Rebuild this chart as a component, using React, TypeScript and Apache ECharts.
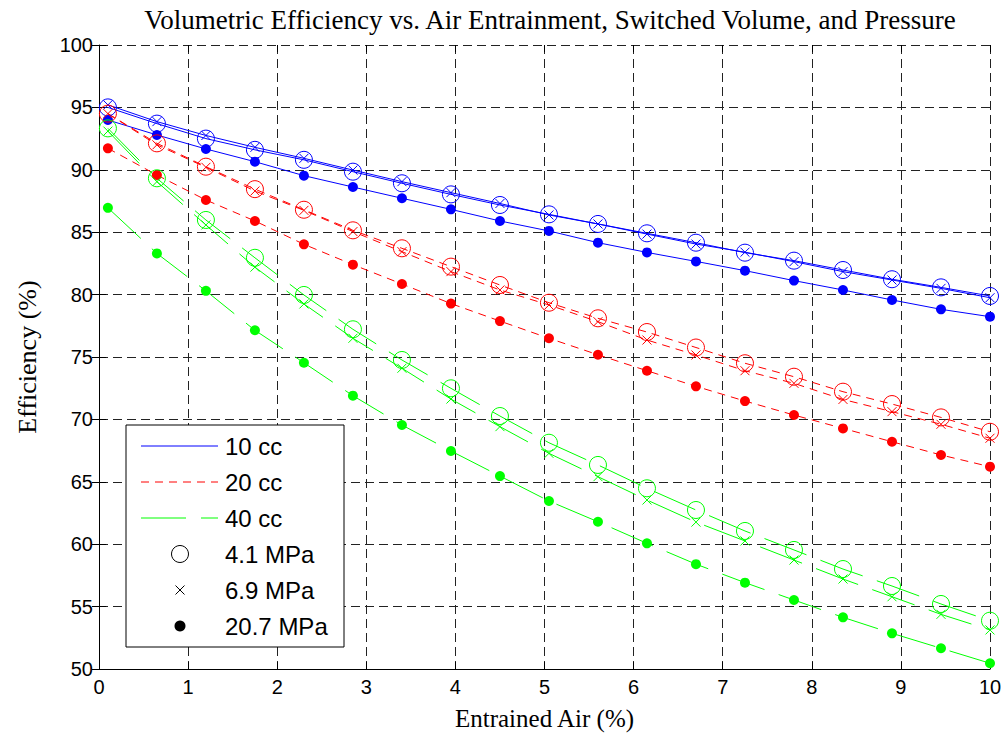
import React, { useEffect, useRef } from 'react';
import * as echarts from 'echarts';

// Entrained air (%) at which each curve was sampled
const airEntrained = [0.1, 0.65, 1.2, 1.75, 2.3, 2.85, 3.4, 3.95, 4.5, 5.05, 5.6, 6.15, 6.7, 7.25, 7.8, 8.35, 8.9, 9.45, 10];

// Volumetric efficiency (%) — 10 cc
const eff10cc_4_1MPa = [95.0, 93.7, 92.5, 91.6, 90.8, 89.85, 88.92, 88.03, 87.18, 86.43, 85.66, 84.91, 84.16, 83.36, 82.72, 81.97, 81.23, 80.58, 79.89];
const eff10cc_6_9MPa = [95.2, 93.86, 92.75, 91.8, 90.92, 89.98, 89.05, 88.17, 87.3, 86.38, 85.66, 84.85, 84.05, 83.4, 82.64, 81.84, 81.17, 80.5, 79.75];
const eff10cc_20_7MPa = [93.99, 92.79, 91.67, 90.65, 89.53, 88.62, 87.72, 86.83, 85.9, 85.1, 84.16, 83.38, 82.66, 81.92, 81.12, 80.37, 79.57, 78.82, 78.23];

// Volumetric efficiency (%) — 20 cc
const eff20cc_4_1MPa = [94.5, 92.12, 90.25, 88.45, 86.8, 85.15, 83.71, 82.24, 80.77, 79.35, 78.1, 77.0, 75.76, 74.5, 73.42, 72.22, 71.23, 70.16, 69.01];
const eff20cc_6_9MPa = [94.5, 92.0, 90.2, 88.3, 86.75, 85.05, 83.44, 81.84, 80.37, 79.17, 77.83, 76.36, 75.16, 73.9, 72.89, 71.6, 70.62, 69.61, 68.49];
const eff20cc_20_7MPa = [91.72, 89.58, 87.58, 85.9, 84.03, 82.4, 80.85, 79.28, 77.88, 76.5, 75.18, 73.9, 72.65, 71.47, 70.35, 69.28, 68.21, 67.15, 66.21];

// Volumetric efficiency (%) — 40 cc
const eff40cc_4_1MPa = [93.32, 89.32, 85.98, 82.95, 79.97, 77.22, 74.76, 72.49, 70.27, 68.13, 66.35, 64.48, 62.74, 61.06, 59.54, 58.01, 56.65, 55.21, 53.87];
const eff40cc_6_9MPa = [93.1, 89.05, 85.58, 82.2, 79.25, 76.5, 74.1, 71.63, 69.42, 67.28, 65.41, 63.54, 61.77, 60.26, 58.73, 57.21, 55.79, 54.38, 53.13];
const eff40cc_20_7MPa = [86.95, 83.3, 80.3, 77.14, 74.54, 71.9, 69.55, 67.47, 65.46, 63.46, 61.8, 60.07, 58.4, 56.92, 55.53, 54.14, 52.86, 51.66, 50.46];

const volumeLabels = ['10 cc', '20 cc', '40 cc'];
const pressureLabels = ['4.1 MPa', '6.9 MPa', '20.7 MPa'];

const chartTitle = 'Volumetric Efficiency vs. Air Entrainment, Switched Volume, and Pressure';
const xAxisTitle = 'Entrained Air (%)';
const yAxisTitle = 'Efficiency (%)';

const seriesTable = [
  [eff10cc_4_1MPa, eff10cc_6_9MPa, eff10cc_20_7MPa],
  [eff20cc_4_1MPa, eff20cc_6_9MPa, eff20cc_20_7MPa],
  [eff40cc_4_1MPa, eff40cc_6_9MPa, eff40cc_20_7MPa],
];

const volumeColors = ['#0000ff', '#ff0000', '#00ff00'];
const volumeDash: any[] = ['solid', [8, 6], [45, 15]];
const CROSS = 'path://M0,0L10,10M10,0L0,10';

const SANS = '"Liberation Sans", Arial, sans-serif';
const SERIF = '"Liberation Serif", "Times New Roman", serif';

function markerStyle(p: number, color: string) {
  if (p === 0) {
    return { symbol: 'circle', symbolSize: 17, itemStyle: { color: 'rgba(0,0,0,0)', borderColor: color, borderWidth: 1 } };
  }
  if (p === 1) {
    return { symbol: CROSS, symbolSize: 9, itemStyle: { color: color, borderColor: color, borderWidth: 1 } };
  }
  return { symbol: 'circle', symbolSize: 10, itemStyle: { color: color, borderWidth: 0 } };
}

export default function App() {
  const ref = useRef<HTMLDivElement>(null);

  useEffect(() => {
    document.body.style.margin = '0';
    if (!ref.current) return;
    const chart = echarts.init(ref.current, null, { renderer: 'svg' });

    const series: any[] = [];
    seriesTable.forEach((row, v) => {
      row.forEach((vals, p) => {
        series.push({
          type: 'line',
          name: volumeLabels[v] + ', ' + pressureLabels[p],
          data: airEntrained.map((x, i) => [x, vals[i]]),
          lineStyle: { color: volumeColors[v], width: 1, type: volumeDash[v] },
          showSymbol: true,
          ...markerStyle(p, volumeColors[v]),
          silent: true,
          z: 3,
        });
      });
    });

    const rowY = (i: number) => 446 + i * 36;
    const lgX1 = 141, lgX2 = 218, lgMark = 180, lgText = 225;

    const legendEls: any[] = [
      {
        type: 'rect',
        shape: { x: 126, y: 425, width: 218, height: 222 },
        style: { fill: '#ffffff', stroke: '#000000', lineWidth: 1 },
        z: 100,
      },
    ];
    volumeLabels.forEach((label, i) => {
      legendEls.push({
        type: 'line',
        shape: { x1: lgX1, y1: rowY(i), x2: lgX2, y2: rowY(i) },
        style: { stroke: volumeColors[i], lineWidth: 1, lineDash: i === 0 ? null : volumeDash[i] },
        z: 101,
      });
    });
    // pressure markers
    legendEls.push({
      type: 'circle',
      shape: { cx: lgMark, cy: rowY(3), r: 8.5 },
      style: { fill: 'none', stroke: '#000000', lineWidth: 1 },
      z: 101,
    });
    legendEls.push({
      type: 'line',
      shape: { x1: lgMark - 4.5, y1: rowY(4) - 4.5, x2: lgMark + 4.5, y2: rowY(4) + 4.5 },
      style: { stroke: '#000000', lineWidth: 1 },
      z: 101,
    });
    legendEls.push({
      type: 'line',
      shape: { x1: lgMark + 4.5, y1: rowY(4) - 4.5, x2: lgMark - 4.5, y2: rowY(4) + 4.5 },
      style: { stroke: '#000000', lineWidth: 1 },
      z: 101,
    });
    legendEls.push({
      type: 'circle',
      shape: { cx: lgMark, cy: rowY(5), r: 5.5 },
      style: { fill: '#000000' },
      z: 101,
    });
    [...volumeLabels, ...pressureLabels].forEach((label, i) => {
      legendEls.push({
        type: 'text',
        x: lgText,
        y: rowY(i),
        style: {
          text: label,
          fill: '#000000',
          font: '24px ' + SANS,
          textAlign: 'left',
          textVerticalAlign: 'middle',
          align: 'left',
          verticalAlign: 'middle',
        },
        z: 102,
      });
    });

    const gridLine = { show: true, lineStyle: { color: '#222222', width: 1, type: [9, 5] } };

    chart.setOption({
      animation: false,
      backgroundColor: '#ffffff',
      title: {
        text: chartTitle,
        left: 545,
        top: 1,
        textAlign: 'center',
        textStyle: { fontFamily: SERIF, fontSize: 27, fontWeight: 'normal', color: '#000000' },
      },
      grid: { left: 99, right: 18, top: 45, bottom: 73, containLabel: false },
      xAxis: [
        {
          type: 'value',
          min: 0,
          max: 10,
          interval: 1,
          position: 'bottom',
          name: xAxisTitle,
          nameLocation: 'middle',
          nameGap: 37,
          nameTextStyle: { fontFamily: SERIF, fontSize: 25, color: '#000000' },
          axisLine: { show: true, onZero: false, lineStyle: { color: '#000000', width: 1 } },
          axisTick: { show: true, inside: true, length: 7, lineStyle: { color: '#000000' } },
          axisLabel: { fontFamily: SANS, fontSize: 20, color: '#000000', margin: 8 },
          splitLine: gridLine,
        },
        {
          type: 'value',
          min: 0,
          max: 10,
          interval: 1,
          position: 'top',
          axisLine: { show: false },
          axisTick: { show: true, inside: true, length: 7, lineStyle: { color: '#000000' } },
          axisLabel: { show: false },
          splitLine: { show: false },
        },
      ],
      yAxis: [
        {
          type: 'value',
          min: 50,
          max: 100,
          interval: 5,
          position: 'left',
          name: yAxisTitle,
          nameLocation: 'middle',
          nameGap: 59,
          nameTextStyle: { fontFamily: SERIF, fontSize: 26, color: '#000000' },
          axisLine: { show: true, onZero: false, lineStyle: { color: '#000000', width: 1 } },
          axisTick: { show: true, inside: true, length: 7, lineStyle: { color: '#000000' } },
          axisLabel: { fontFamily: SANS, fontSize: 20, color: '#000000', margin: 6 },
          splitLine: gridLine,
        },
        {
          type: 'value',
          min: 50,
          max: 100,
          interval: 5,
          position: 'right',
          axisLine: { show: false },
          axisTick: { show: true, inside: true, length: 7, lineStyle: { color: '#000000' } },
          axisLabel: { show: false },
          splitLine: { show: false },
        },
      ],
      graphic: legendEls,
      series,
    });

    return () => {
      chart.dispose();
    };
  }, []);

  return <div ref={ref} style={{ width: 1008, height: 742 }} />;
}
